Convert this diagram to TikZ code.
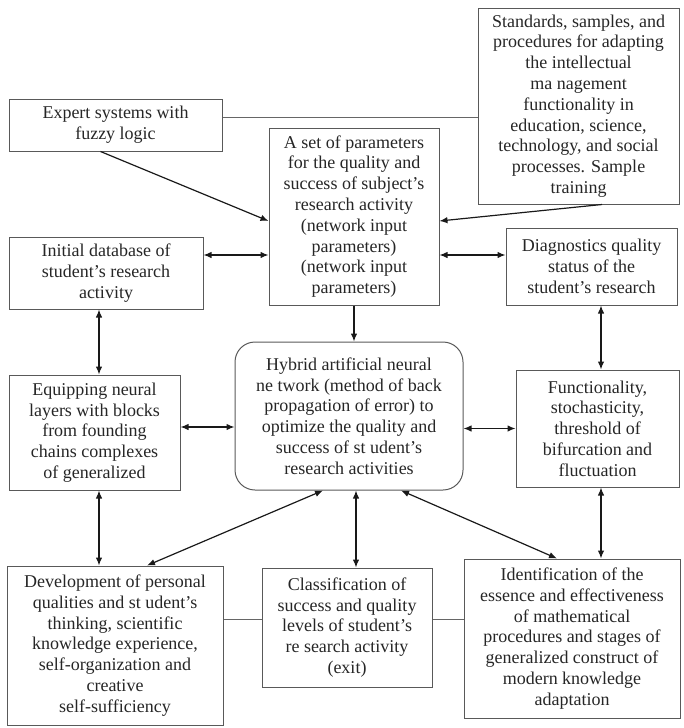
\documentclass[tikz,border=0pt]{standalone}
\usepackage{fontspec}
\setmainfont{Liberation Serif}
\usetikzlibrary{arrows.meta}
\tikzset{
  blok/.style={draw=black!65, line width=1pt, align=center, inner sep=0pt, text=black!85, font=\fontsize{18}{20.8}\selectfont},
  link/.style={draw=black!60, line width=1pt},
  arr/.style={draw=black!90, line width=1.2pt},
  >={Latex[length=8pt,width=6.5pt]}
}
\begin{document}
\begin{tikzpicture}[x=1pt, y=-1pt]
\useasboundingbox (0,0) rectangle (683,728);
\node[blok, minimum width=213pt, minimum height=52pt] (expert) at (115.5,125) {Expert systems with\\fuzzy logic};
\node[blok, minimum width=201pt, minimum height=196pt] (standards) at (578.5,106) {Standards, samples, and\\procedures for adapting\\the intellectual\\ma nagement\\functionality in\\education, science,\\technology, and social\\processes. Sample\\training};
\node[blok, minimum width=170pt, minimum height=177pt] (params) at (354,216.5) {A set of parameters\\for the quality and\\success of subject’s\\research activity\\(network input\\parameters)\\(network input\\parameters)};
\node[blok, minimum width=194pt, minimum height=72pt] (initdb) at (106,273) {Initial database of\\student’s research\\activity};
\node[blok, minimum width=171pt, minimum height=77pt] (diag) at (591.5,266.5) {Diagnostics quality\\status of the\\student’s research};
\node[blok, minimum width=171pt, minimum height=115pt] (equip) at (94.5,432.5) {Equipping neural\\layers with blocks\\from founding\\chains complexes\\of generalized};
\node[blok, rounded corners=20pt, minimum width=228pt, minimum height=148pt] (hybrid) at (349,416) {Hybrid artificial neural\\ne twork (method of back\\propagation of error) to\\optimize the quality and\\success of st udent’s\\research activities};
\node[blok, minimum width=163pt, minimum height=117pt] (func) at (597.5,428.5) {Functionality,\\stochasticity,\\threshold of\\bifurcation and\\fluctuation};
\node[blok, minimum width=216pt, minimum height=159pt] (devel) at (115,645.5) {Development of personal\\qualities and st udent’s\\thinking, scientific\\knowledge experience,\\self-organization and\\creative\\self-sufficiency};
\node[blok, minimum width=170pt, minimum height=119pt] (classif) at (347,627.5) {Classification of\\success and quality\\levels of student’s\\re search activity\\(exit)};
\node[blok, minimum width=216pt, minimum height=159pt] (ident) at (572,638.5) {Identification of the\\essence and effectiveness\\of mathematical\\procedures and stages of\\generalized construct of\\modern knowledge\\adaptation};
\coordinate (e1) at ([yshift=8pt]expert.east);
\coordinate (p1) at ([yshift=18pt]initdb.east);
\coordinate (v1) at ([xshift=-7pt]initdb.south);
\coordinate (v2) at ([xshift=9.5pt]diag.south);
\coordinate (h1) at ([yshift=5.5pt]equip.east);
\coordinate (l1) at ([yshift=8.5pt]classif.west);
\draw[link] (e1) -- (e1 -| standards.west);
\draw[link] (l1 -| devel.east) -- (l1);
\draw[link] (l1 -| classif.east) -- (l1 -| ident.west);
\draw[arr, ->] ([xshift=-15pt]expert.south) -- ([yshift=-4.5pt]params.west);
\draw[arr, ->] ([xshift=23.5pt]standards.south) -- ([yshift=-4.5pt]params.east);
\draw[arr, <->] (p1) -- (p1 -| params.west);
\draw[arr, <->] (p1 -| params.east) -- (p1 -| diag.west);
\draw[arr, ->] (params.south) -- (params.south |- hybrid.north);
\draw[arr, <->] (v1) -- (v1 |- equip.north);
\draw[arr, <->] (v1 |- equip.south) -- (v1 |- devel.north);
\draw[arr, <->] (h1) -- (h1 -| hybrid.west);
\draw[arr, <->] (func.west -| hybrid.east) -- (func.west);
\draw[arr, <->] (v2) -- (v2 |- func.north);
\draw[arr, <->] (v2 |- func.south) -- (v2 |- ident.north);
\draw[arr, <->] ([xshift=-26pt]hybrid.south) -- ([xshift=32pt]devel.north);
\draw[arr, <->] ([xshift=7pt]hybrid.south) -- ([xshift=7pt]hybrid.south |- classif.north);
\draw[arr, <->] ([xshift=52pt]hybrid.south) -- ([xshift=-15pt]ident.north);
\end{tikzpicture}
\end{document}
